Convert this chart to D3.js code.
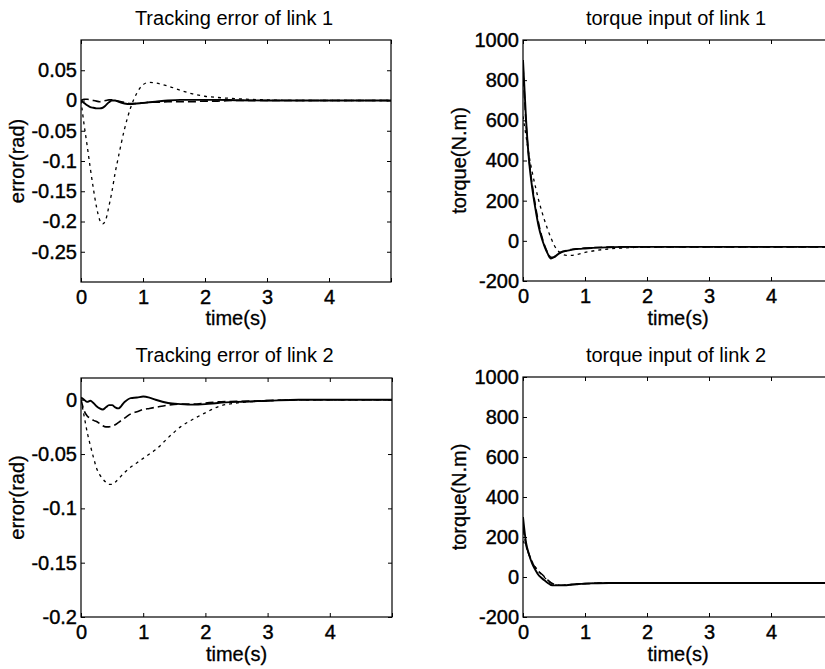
<!DOCTYPE html>
<html>
<head>
<meta charset="utf-8">
<script src="https://cdn.jsdelivr.net/npm/d3@7"></script>
<style>
  html, body { margin: 0; padding: 0; background: #fff; }
  svg { display: block; }
  text { font-family: "Liberation Sans", Arial, Helvetica, sans-serif; fill: #000; }
</style>
</head>
<body>
<svg id="chart" width="825" height="669"></svg>
<script>
// ---------------- data ----------------
const time = [0, 0.05, 0.1, 0.15, 0.2, 0.25, 0.3, 0.35, 0.4, 0.45, 0.5, 0.55, 0.6, 0.7, 0.8, 0.9, 1.0, 1.1, 1.2, 1.4, 1.6, 1.8, 2.0, 2.2, 2.5, 3.0, 3.5, 4.0, 5.0];

// Tracking error of link 1 (rad)
const err1Solid  = [0, -0.004, -0.008, -0.011, -0.012, -0.013, -0.013, -0.012, -0.008, -0.003, 0.0, 0.0, -0.002, -0.005, -0.006, -0.005, -0.004, -0.003, -0.002, 0.0, 0.001, 0.001, 0.001, 0.001, 0.0005, 0, 0, 0, 0];
const err1Dashed = [0, 0.002, 0.002, 0.001, 0.0, -0.001, -0.002, -0.001, 0.0, 0.001, 0.001, 0.0, -0.001, -0.003, -0.005, -0.005, -0.004, -0.003, -0.003, -0.002, -0.002, -0.002, -0.001, -0.001, 0, 0, 0, 0, 0];
const err1Dotted = [0, -0.04, -0.075, -0.112, -0.146, -0.176, -0.197, -0.204, -0.197, -0.175, -0.15, -0.12, -0.095, -0.048, -0.012, 0.012, 0.026, 0.03, 0.029, 0.024, 0.017, 0.011, 0.007, 0.005, 0.003, 0.001, 0, 0, 0];

// Tracking error of link 2 (rad)
const err2Solid  = [0.002, 0.0, -0.002, -0.001, -0.003, -0.006, -0.008, -0.009, -0.007, -0.005, -0.005, -0.007, -0.008, -0.002, 0.0015, 0.002, 0.003, 0.002, 0.0, -0.003, -0.004, -0.0045, -0.004, -0.003, -0.002, -0.001, 0, 0, 0];
const err2Dashed = [0, -0.01, -0.015, -0.017, -0.019, -0.02, -0.022, -0.024, -0.025, -0.025, -0.024, -0.023, -0.021, -0.017, -0.013, -0.011, -0.009, -0.008, -0.007, -0.005, -0.004, -0.004, -0.003, -0.002, -0.0015, -0.0008, 0, 0, 0];
const err2Dotted = [0, -0.015, -0.03, -0.042, -0.053, -0.063, -0.069, -0.073, -0.076, -0.078, -0.078, -0.076, -0.073, -0.067, -0.062, -0.058, -0.054, -0.05, -0.046, -0.035, -0.025, -0.018, -0.012, -0.0065, -0.003, -0.001, 0, 0, 0];

// torque input of link 1 (N.m)
const tq1Solid  = [900, 600, 390, 260, 160, 75, 15, -30, -65, -88, -82, -70, -60, -50, -44, -40, -38, -36, -34, -32, -30, -30, -30, -30, -30, -30, -30, -30, -30];
const tq1Dashed = [870, 580, 400, 275, 175, 90, 25, -25, -60, -82, -80, -68, -58, -48, -42, -39, -36, -34, -33, -31, -30, -30, -30, -30, -30, -30, -30, -30, -30];
const tq1Dotted = [620, 520, 420, 340, 270, 205, 150, 100, 55, 15, -20, -45, -60, -72, -72, -66, -58, -52, -47, -40, -36, -33, -31, -30, -30, -30, -30, -30, -30];

// torque input of link 2 (N.m)
const tq2Solid  = [300, 170, 110, 65, 35, 10, -5, -18, -30, -40, -42, -42, -42, -41, -38, -35, -33, -32, -31, -30, -30, -30, -30, -30, -30, -30, -30, -30, -30];
const tq2Dashed = [250, 160, 110, 72, 45, 28, 15, 0, -15, -28, -36, -40, -41, -40, -37, -35, -33, -32, -31, -30, -30, -30, -30, -30, -30, -30, -30, -30, -30];
const tq2Dotted = [180, 150, 110, 75, 50, 30, 12, -3, -18, -30, -38, -41, -42, -40, -37, -35, -33, -32, -31, -30, -30, -30, -30, -30, -30, -30, -30, -30, -30];

// ticks and labels
const xTicks = [0, 1, 2, 3, 4, 5];
const xTickLabels = ["0", "1", "2", "3", "4", ""];
const err1Ticks = [0.05, 0, -0.05, -0.1, -0.15, -0.2, -0.25];
const err1TickLabels = ["0.05", "0", "-0.05", "-0.1", "-0.15", "-0.2", "-0.25"];
const err2Ticks = [0, -0.05, -0.1, -0.15, -0.2];
const err2TickLabels = ["0", "-0.05", "-0.1", "-0.15", "-0.2"];
const tqTicks = [1000, 800, 600, 400, 200, 0, -200];
const tqTickLabels = ["1000", "800", "600", "400", "200", "0", "-200"];

const titles = ["Tracking error of link 1", "torque input of link 1", "Tracking error of link 2", "torque input of link 2"];
const xLabel = "time(s)";
const yLabels = ["error(rad)", "torque(N.m)", "error(rad)", "torque(N.m)"];

// ---------------- layout ----------------
const panels = [
  { left: 81,  top: 40,  w: 310, h: 242, yDom: [-0.3, 0.1],  yTicks: err1Ticks, yLab: err1TickLabels, series: [err1Solid, err1Dashed, err1Dotted], title: titles[0], ylabel: yLabels[0], titleY: 25,  xlabY: 325, ylabX: 24 },
  { left: 523, top: 40,  w: 310, h: 241, yDom: [-200, 1000], yTicks: tqTicks,   yLab: tqTickLabels,   series: [tq1Solid, tq1Dashed, tq1Dotted],    title: titles[1], ylabel: yLabels[1], titleY: 25,  xlabY: 325, ylabX: 466 },
  { left: 81,  top: 378, w: 311, h: 239, yDom: [-0.2, 0.02], yTicks: err2Ticks, yLab: err2TickLabels, series: [err2Solid, err2Dashed, err2Dotted], title: titles[2], ylabel: yLabels[2], titleY: 362, xlabY: 661, ylabX: 24 },
  { left: 523, top: 377, w: 310, h: 240, yDom: [-200, 1000], yTicks: tqTicks,   yLab: tqTickLabels,   series: [tq2Solid, tq2Dashed, tq2Dotted],    title: titles[3], ylabel: yLabels[3], titleY: 362, xlabY: 661, ylabX: 466 }
];

const styles = [
  { width: 1.9, dash: null },
  { width: 1.6, dash: "8,4" },
  { width: 1.3, dash: "3,4" }
];

const svg = d3.select("#chart");

panels.forEach((p, i) => {
  const g = svg.append("g").attr("transform", `translate(${p.left},${p.top})`);
  const x = d3.scaleLinear().domain([0, 5]).range([0, p.w]);
  const y = d3.scaleLinear().domain(p.yDom).range([p.h, 0]);

  g.append("defs").append("clipPath").attr("id", "clip" + i)
    .append("rect").attr("width", p.w).attr("height", p.h);

  const xFmt = (d) => xTickLabels[xTicks.indexOf(d)];
  const yFmt = (d) => p.yLab[p.yTicks.indexOf(d)];

  const ax = g.append("g").attr("transform", `translate(0,${p.h})`)
    .call(d3.axisBottom(x).tickValues(xTicks).tickFormat(xFmt).tickSize(-4).tickPadding(8));
  const ay = g.append("g")
    .call(d3.axisLeft(y).tickValues(p.yTicks).tickFormat(yFmt).tickSize(-4).tickPadding(4));
  const at = g.append("g")
    .call(d3.axisTop(x).tickValues(xTicks).tickFormat("").tickSize(-4));
  const ar = g.append("g").attr("transform", `translate(${p.w},0)`)
    .call(d3.axisRight(y).tickValues(p.yTicks).tickFormat("").tickSize(-4));

  [ax, ay, at, ar].forEach(a => {
    a.select(".domain").remove();
    a.selectAll("line").attr("stroke", "#000").attr("stroke-width", 1);
    a.selectAll("text").attr("font-size", 20)
      .attr("font-family", "Liberation Sans, Arial, sans-serif")
      .attr("fill", "#000").attr("stroke", "#000").attr("stroke-width", 0.4);
  });

  g.append("rect").attr("width", p.w).attr("height", p.h)
    .attr("fill", "none").attr("stroke", "#000").attr("stroke-width", 1.2);

  const line = d3.line().x((d, k) => x(time[k])).y(d => y(d)).curve(d3.curveMonotoneX);
  p.series.forEach((s, k) => {
    g.append("path")
      .attr("clip-path", `url(#clip${i})`)
      .attr("d", line(s))
      .attr("fill", "none")
      .attr("stroke", "#000")
      .attr("stroke-width", styles[k].width)
      .attr("stroke-dasharray", styles[k].dash)
      .attr("stroke-linejoin", "round");
  });

  svg.append("text")
    .attr("x", p.left + p.w / 2 - 2).attr("y", p.titleY)
    .attr("text-anchor", "middle").attr("font-size", 20)
    .text(p.title);

  svg.append("text")
    .attr("x", p.left + p.w / 2).attr("y", p.xlabY)
    .attr("text-anchor", "middle").attr("font-size", 20)
    .attr("stroke", "#000").attr("stroke-width", 0.3)
    .text(xLabel);

  svg.append("text")
    .attr("transform", `translate(${p.ylabX},${p.top + p.h / 2}) rotate(-90)`)
    .attr("text-anchor", "middle").attr("font-size", 20)
    .attr("stroke", "#000").attr("stroke-width", 0.3)
    .text(p.ylabel);
});
</script>
</body>
</html>
